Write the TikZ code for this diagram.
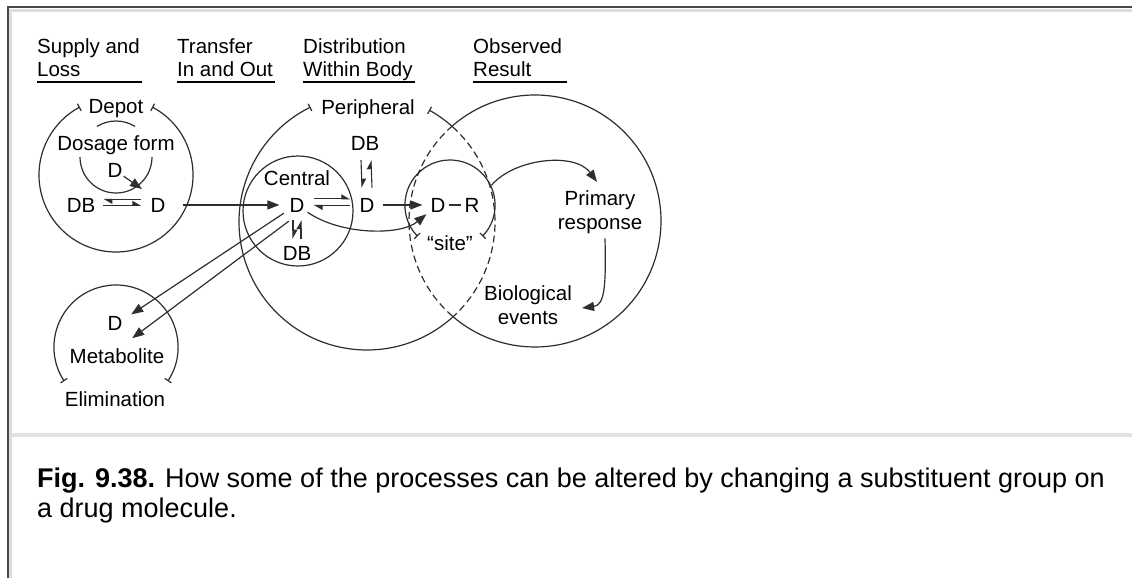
\documentclass[tikz,border=0pt]{standalone}
\usepackage{fontspec}
\setmainfont{Liberation Sans}
\usetikzlibrary{arrows.meta,calc}
\definecolor{ink}{HTML}{2E2E2E}
\definecolor{framedark}{HTML}{4A4A4A}
\definecolor{framelight}{HTML}{DEDEDE}
\definecolor{rule}{HTML}{E2E2E2}
\begin{document}
\begin{tikzpicture}[x=1pt,y=1pt,
  lbl/.style={font=\fontsize{20.5}{24}\selectfont, inner sep=0pt, anchor=base, text=black},
  hdr/.style={lbl, anchor=base west},
  uline/.style={draw=black, line width=1.6pt},
  ring/.style={draw=ink, line width=1.2pt},
  dashring/.style={ring, dash pattern=on 7pt off 4pt},
  ends/.style={{Bar[width=8pt]}-{Bar[width=8pt]}},
  arr/.style={draw=ink, line width=1.2pt, -{Triangle[length=12pt,width=9pt]}},
  eqtip/.style={draw=ink, line width=1.1pt, -{Triangle[harpoon,length=8pt,width=9pt]}},
  bond/.style={draw=ink, line width=1.6pt},
  capfont/.style={font=\fontsize{27}{31}\selectfont, inner sep=0pt, anchor=base west}]
\useasboundingbox (0,0) rectangle (1132,-578);
\fill[white] (0,0) rectangle (1132,-578);

% page frame and caption separator
\draw[framelight, line width=3pt] (10,-10.5) -- (1132,-10.5);
\draw[framelight, line width=3pt] (10.5,-9) -- (10.5,-578);
\draw[framedark, line width=2pt] (8,-7) -- (1132,-7);
\draw[framedark, line width=2pt] (8,-6) -- (8,-578);
\draw[rule, line width=4pt] (12,-435) -- (1132,-435);

% column headings
\node[hdr] (h1a) at (37,-53) {Supply and};
\node[hdr] (h1b) at (37,-77) {Loss};
\node[hdr] (h2a) at (177,-53) {Transfer};
\node[hdr] (h2b) at (177,-77) {In and Out};
\node[hdr] (h3a) at (303,-53) {Distribution};
\node[hdr] (h3b) at (303,-77) {Within Body};
\node[hdr] (h4a) at (473,-53) {Observed};
\node[hdr] (h4b) at (473,-77) {Result};
\draw[uline] (37,-82) -- (142,-82);
\draw[uline] (177,-82) -- (275,-82);
\draw[uline] (303,-82) -- (415,-82);
\draw[uline] (473,-82) -- (567,-82);

% labels
\node[lbl] (depot) at (116,-113) {Depot};
\node[lbl] (dosage) at (116,-150) {Dosage form};
\node[lbl] (sD) at (115,-177) {D};
\node[lbl] (dDB) at (81,-212) {DB};
\node[lbl] (dD) at (158,-212) {D};
\node[lbl] (central) at (297,-185) {Central};
\node[lbl] (cD) at (297,-212) {D};
\node[lbl] (cDB) at (297,-260) {DB};
\node[lbl] (periph) at (368,-114) {Peripheral};
\node[lbl] (pDB) at (365,-150) {DB};
\node[lbl] (pD) at (367,-212) {D};
\node[lbl] (rD) at (438,-212) {D};
\node[lbl] (rR) at (472,-212) {R};
\node[lbl] (site) at (450,-250) {“site”};
\node[lbl] (prim) at (600,-205) {Primary};
\node[lbl] (resp) at (600,-229) {response};
\node[lbl] (bio) at (528,-300) {Biological};
\node[lbl] (events) at (528,-324) {events};
\node[lbl] (mD) at (115,-330) {D};
\node[lbl] (metab) at (117,-363) {Metabolite};
\node[lbl] (elim) at (115,-406) {Elimination};

% compartment centres
\coordinate (depotC) at (116,-175);
\coordinate (formC) at (116,-157);
\coordinate (centC) at (298,-211);
\coordinate (perC) at (367,-222);
\coordinate (obsC) at (535,-221);
\coordinate (siteC) at (450,-205);
\coordinate (metC) at (116,-347);

% depot with dosage form
\draw[ring, ends] ($(depotC)+(62:77)$) arc[start angle=62, end angle=-242, radius=77];
\draw[ring] ($(formC)+(58:36)$) arc[start angle=58, end angle=122, radius=36];
\draw[ring] ($(formC)+(180:36)$) arc[start angle=180, end angle=360, radius=36];
\coordinate (release) at (142,-189);
\draw[arr] ($(sD.south east)+(1,1)$) -- (release);

% central compartment
\draw[ring] (centC) circle[radius=55];

% peripheral compartment (dashed where it lies inside the observed region)
\draw[ring, {Bar[width=8pt]}-] ($(perC)+(61:128)$) arc[start angle=61, end angle=48.1, radius=128];
\draw[dashring] ($(perC)+(48.1:128)$) arc[start angle=48.1, end angle=-48.1, radius=128];
\draw[ring, -{Bar[width=8pt]}] ($(perC)+(-48.1:128)$) arc[start angle=-48.1, end angle=-243.8, radius=128];

% observed result region
\draw[ring] ($(obsC)+(130.9:126)$) arc[start angle=130.9, end angle=-130.9, radius=126];
\draw[dashring] ($(obsC)+(229.1:126)$) arc[start angle=229.1, end angle=130.9, radius=126];

% receptor site
\draw[ring, ends] ($(siteC)+(-44:45)$) arc[start angle=-44, end angle=224, radius=45];

% elimination
\draw[ring, ends] ($(metC)+(-33.4:62)$) arc[start angle=-33.4, end angle=213.4, radius=62];

% binding equilibria
\draw[eqtip] ($(dD.west)+(-9,5.5)$) -- ($(dDB.east)+(8,5.5)$);
\draw[eqtip] ($(dDB.east)+(8,-0.5)$) -- ($(dD.west)+(-9,-0.5)$);
\draw[eqtip] ($(cD.east)+(9,6)$) -- ($(pD.west)+(-9,6)$);
\draw[eqtip] ($(pD.west)+(-9,-0.5)$) -- ($(cD.east)+(9,-0.5)$);
\draw[eqtip] ($(cD.south)+(-4,-8)$) -- ($(cDB.north)+(-4,7)$);
\draw[eqtip] ($(cDB.north)+(4,7)$) -- ($(cD.south)+(4,-8)$);
\draw[eqtip] ($(pDB.south)+(-4,-10)$) -- ($(pD.north)+(-5,10)$);
\draw[eqtip] ($(pD.north)+(5,10)$) -- ($(pDB.south)+(6,-10)$);

% transfer arrows
\draw[arr, shorten <=17pt, shorten >=10pt] (dD) -- (cD);
\draw[arr, shorten <=8pt, shorten >=8pt] (pD) -- (rD);
\draw[bond] ($(rD.east)+(3,0)$) -- ($(rR.west)+(-3,0)$);
\draw[arr] ($(cD.south east)+(3,0)$) .. controls (340,-235) and (400,-236) .. ($(rD.south west)+(-4,-2)$);
\draw[arr] ($(cD.south west)+(-5.6,-1)$) -- ($(mD.north east)+(8.6,1.3)$);
\draw[arr] ($(cD.south west)+(-0.6,-9)$) -- ($(mD.south east)+(9.6,-8)$);

% response chain
\draw[arr] ($(siteC)+(25.5:46)$) .. controls (515,-158) and (575,-152) .. ($(prim.north)+(-3,8)$);
\draw[arr] ($(resp.south)+(5,-5)$) .. controls (606,-285) and (605,-305) .. ($(bio.base east)+(10,-8)$);

% caption
\node[capfont] (cap1) at (37,-487) {\textbf{Fig. 9.38.} How some of the processes can be altered by changing a substituent group on};
\node[capfont] (cap2) at (37,-517) {a drug molecule.};
\end{tikzpicture}
\end{document}
